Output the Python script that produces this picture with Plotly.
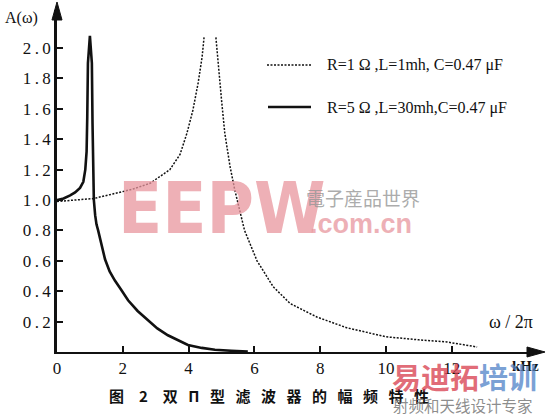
import plotly.graph_objects as go

# curva continua: R=5 Ω, L=30mh, C=0.47 μF
solid_f = [0, 0.2, 0.4, 0.55, 0.7, 0.8, 0.86, 0.9, 0.92, 0.94, 1.0, 1.06, 1.08, 1.1,
           1.12, 1.16, 1.2, 1.25, 1.35, 1.46, 1.6, 1.76, 1.95, 2.16, 2.45, 2.77,
           3.05, 3.37, 3.7, 3.98, 4.4, 4.8, 5.3, 5.8]
solid_a = [1.0, 1.01, 1.03, 1.05, 1.08, 1.12, 1.2, 1.32, 1.55, 1.9, 2.08, 1.9, 1.5, 1.15,
           1.0, 0.9, 0.84, 0.8, 0.7, 0.61, 0.53, 0.47, 0.41, 0.34, 0.27, 0.21,
           0.155, 0.11, 0.075, 0.046, 0.027, 0.015, 0.008, 0.003]

# curva punteada: R=1 Ω, L=1mh, C=0.47 μF (pico cortado arriba)
dot_f = [0, 0.5, 1.12, 1.7, 2.28, 2.83, 3.1, 3.43, 3.74, 3.95, 4.13, 4.29, 4.41, 4.47,
         None,
         4.83, 4.9, 5.0, 5.1, 5.26, 5.4, 5.7, 6.08, 6.57, 7.08, 7.9, 8.8, 10.0,
         11.0, 11.85, 12.77]
dot_a = [0.99, 1.0, 1.01, 1.04, 1.07, 1.11, 1.15, 1.2, 1.3, 1.44, 1.59, 1.77, 1.94, 2.07,
         None,
         2.07, 1.88, 1.66, 1.44, 1.22, 1.07, 0.8, 0.6, 0.43, 0.32, 0.23, 0.16, 0.10,
         0.08, 0.066, 0.033]

x_ticks = [0, 2, 4, 6, 8, 10, 12]
y_ticks = [0.2, 0.4, 0.6, 0.8, 1.0, 1.2, 1.4, 1.6, 1.8, 2.0]

SERIF = "Liberation Serif, Times New Roman, serif"
CJK = "Noto Sans CJK SC"
SP = "\u2002"  # espacio medio
TH = "\u2009"  # espacio fino

# área de trazado en píxeles
L, R, T, B = 57, 540, 10, 352
W, H = 546, 417


def px(x, y):
    return (x - L) / (R - L), (B - y) / (B - T)


fig = go.Figure()
fig.add_trace(go.Scatter(x=dot_f, y=dot_a, mode="lines", connectgaps=False,
                         line=dict(color="#111", width=1.5, dash="2px,1.5px"),
                         showlegend=False))
fig.add_trace(go.Scatter(x=solid_f, y=solid_a, mode="lines",
                         line=dict(color="#111", width=2.6),
                         showlegend=False))

ann = []


def text(x, y, s, size, font=SERIF, color="#111", xanchor="left", **kw):
    xp, yp = px(x, y)
    ann.append(dict(x=xp, y=yp, xref="paper", yref="paper", text=s, showarrow=False,
                    xanchor=xanchor, yanchor="middle",
                    font=dict(family=font, size=size, color=color), **kw))


# marca de agua EEPW
text(116, 208, "<b>EEPW</b>", 72, font="Liberation Sans Narrow, DejaVu Sans Condensed, sans-serif",
     color="rgba(232,150,158,0.75)")
text(304, 197, "電子産品世界", 19, font=CJK, color="rgba(150,150,150,0.8)")
text(308, 224, "<b>.com.cn</b>", 27, font="Liberation Sans, sans-serif",
     color="rgba(232,150,158,0.75)")

# leyenda manual
text(325, 65, "R=1 Ω ,L=1mh, C=0.47 μF", 16)
text(325, 108, "R=5 Ω ,L=30mh,C=0.47 μF", 16)

# rótulos de ejes
text(3, 18, "A(ω)", 16)
text(535, 322, "ω / 2π", 18, xanchor="right")
text(541, 366, "<b>kHz</b>", 15, xanchor="right")

# pie de figura
caption = "图" + SP * 2 + "2" + SP * 2 + (SP + TH).join("双Π型滤波器的幅频特性")
text(107, 395, "<b>" + caption + "</b>", 15, font=CJK)

# marca de agua inferior
text(390, 376, "<b><span style='color:rgba(215,60,75,0.75)'>易迪拓</span>"
     "<span style='color:rgba(80,130,200,0.75)'>培训</span></b>", 29, font=CJK)
text(391, 405, "射频和天线设计专家", 15.5, font=CJK, color="rgba(120,120,120,0.85)")

shapes = []
# muestras de leyenda
x0, y0 = px(267, 65)
x1, _ = px(312, 65)
shapes.append(dict(type="line", xref="paper", yref="paper", x0=x0, x1=x1, y0=y0, y1=y0,
                   line=dict(color="#111", width=1.5, dash="2px,1.5px")))
x0, y0 = px(268, 107)
x1, _ = px(311, 107)
shapes.append(dict(type="line", xref="paper", yref="paper", x0=x0, x1=x1, y0=y0, y1=y0,
                   line=dict(color="#111", width=2.6)))


def tri(pts):
    p = [px(a, b) for a, b in pts]
    return "M" + " L".join(f"{a:.4f},{b:.4f}" for a, b in p) + " Z"


# puntas de flecha de los ejes
shapes.append(dict(type="path", xref="paper", yref="paper", path=tri([(57, 2), (52, 20), (62, 20)]),
                   fillcolor="#111", line=dict(color="#111", width=1)))
shapes.append(dict(type="path", xref="paper", yref="paper", path=tri([(545, 352), (527, 347), (527, 357)]),
                   fillcolor="#111", line=dict(color="#111", width=1)))

fig.update_xaxes(range=[0, (R - L) / 32.9], showline=True, linewidth=2, linecolor="#111",
                 showgrid=False, zeroline=False, ticks="inside", ticklen=6, tickwidth=2,
                 tickcolor="#111", tickvals=x_ticks, ticktext=[str(v) for v in x_ticks],
                 tickfont=dict(family=SERIF, size=17, color="#111"))
fig.update_yaxes(range=[0, (B - T) / 152], showline=True, linewidth=2.5, linecolor="#111",
                 showgrid=False, zeroline=False, ticks="inside", ticklen=6, tickwidth=2,
                 tickcolor="#111", tickvals=y_ticks,
                 ticktext=[f"{v:.1f}".replace(".", "\u2009.\u2009") for v in y_ticks],
                 tickfont=dict(family=SERIF, size=17, color="#111"))
fig.update_layout(width=W, height=H, margin=dict(l=L, r=W - R, t=T, b=H - B),
                  paper_bgcolor="white", plot_bgcolor="white",
                  annotations=ann, shapes=shapes)
fig.write_html("out.html", config={"displayModeBar": False},
               post_script="document.body.style.margin='0';")
